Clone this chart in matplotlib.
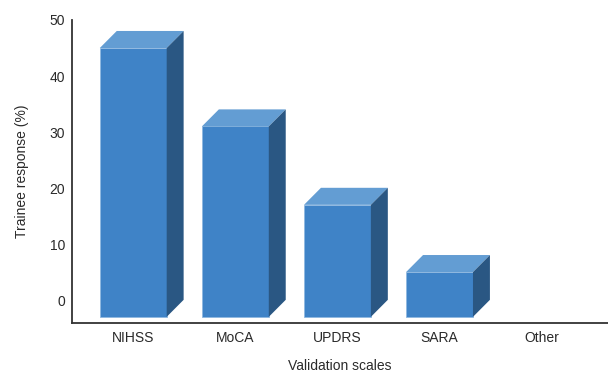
import matplotlib.pyplot as plt
from matplotlib.patches import Polygon

plt.rcParams['font.family'] = ['Liberation Sans', 'DejaVu Sans']

# data
scales = ['NIHSS', 'MoCA', 'UPDRS', 'SARA', 'Other']
response = [45, 31, 17, 5, 0]

front_col = '#3f83c7'
top_col = '#639dd3'
side_col = '#2a5783'

fig = plt.figure(figsize=(6.08, 3.73), dpi=100)
ax = fig.add_axes([0.1184, 0.134, 0.8816, 0.8124])

ax.set_xlim(-0.6, 4.65)
ax.set_ylim(-4.1, 50)

width = 0.655
base = -3
# depth offset of the fake 3d box, in data units
dx = 0.166
dy = 3.04

for i, v in enumerate(response):
    if v <= 0:
        continue
    x0 = i - width / 2
    x1 = i + width / 2
    front = Polygon([(x0, base), (x1, base), (x1, v), (x0, v)], closed=True,
                    facecolor=front_col, edgecolor='#8fb8e0', lw=0.6, clip_on=False, zorder=3)
    top = Polygon([(x0, v), (x1, v), (x1 + dx, v + dy), (x0 + dx, v + dy)], closed=True,
                  facecolor=top_col, edgecolor='none', clip_on=False, zorder=3)
    side = Polygon([(x1, base), (x1 + dx, base + dy), (x1 + dx, v + dy), (x1, v)], closed=True,
                   facecolor=side_col, edgecolor='none', clip_on=False, zorder=3)
    ax.add_patch(front)
    ax.add_patch(top)
    ax.add_patch(side)

ax.set_xticks(range(len(scales)))
ax.set_xticklabels(scales)
ax.set_yticks([0, 10, 20, 30, 40, 50])

ax.tick_params(axis='both', length=0, labelsize=10, colors='#2a2a2a')
ax.tick_params(axis='x', pad=6)
ax.tick_params(axis='y', pad=5)

for s in ['top', 'right']:
    ax.spines[s].set_visible(False)
for s in ['left', 'bottom']:
    ax.spines[s].set_color('#333333')
    ax.spines[s].set_linewidth(1.3)

ax.set_xlabel('Validation scales', fontsize=10, color='#2a2a2a', labelpad=10)
ax.set_ylabel('Trainee response (%)', fontsize=10, color='#2a2a2a', labelpad=15)

fig.savefig('out.png', dpi=100)
